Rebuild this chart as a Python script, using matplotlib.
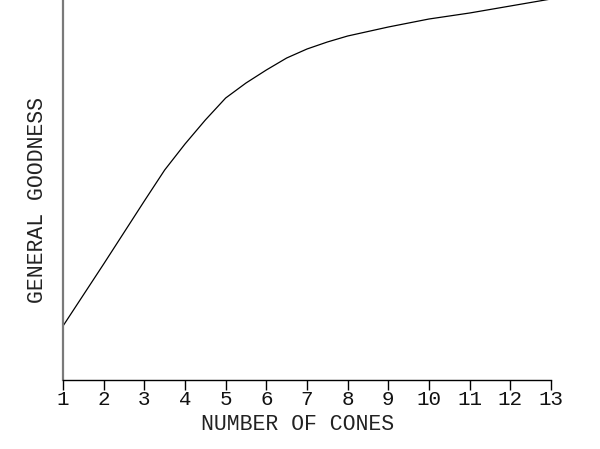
import matplotlib
matplotlib.use("Agg")
import matplotlib.pyplot as plt

# Data (y in arbitrary "goodness" units)
cones = [1, 2, 3, 3.5, 4, 4.5, 5, 5.5, 6, 6.5, 7, 7.5, 8, 9, 10, 11, 12, 13]
goodness = [54, 116, 179, 210, 236, 260, 282, 297, 310, 322, 331, 338, 344, 353, 361, 367, 374, 381]
xticks = list(range(1, 14))

plt.rcParams['font.family'] = ['Liberation Mono', 'DejaVu Sans']

fig = plt.figure(figsize=(6.0, 4.49), dpi=100)
ax = fig.add_axes([63/600, 1 - 380/449, (551 - 63)/600, 380/449])

ax.plot(cones, goodness, color='black', linewidth=0.9, clip_on=True)

ax.set_xlim(1, 13)
ax.set_ylim(0, 380)
ax.set_xticks(xticks)
ax.set_xticklabels([str(t) for t in xticks], fontsize=15, color='#111111')
ax.set_yticks([])

for s in ['top', 'right']:
    ax.spines[s].set_visible(False)
ax.spines['left'].set_color('#7a7a7a')
ax.spines['left'].set_linewidth(1.6)
ax.spines['bottom'].set_color('black')
ax.spines['bottom'].set_linewidth(1.0)
ax.tick_params(axis='x', direction='out', length=7, width=1.0, pad=0, color='black')

ax.set_xlabel('NUMBER OF CONES', fontsize=15.5, color='#222222')
ax.xaxis.set_label_coords((298 - 63) / (551 - 63), -(425 - 380) / 380)
ax.set_ylabel('GENERAL GOODNESS', fontsize=15.5, color='#222222')
ax.yaxis.set_label_coords(-(63 - 38) / (551 - 63), (380 - 200) / 380)
ax.xaxis.label.set_va('center')
ax.yaxis.label.set_va('center')

fig.savefig('out.png', dpi=100, facecolor='white')
